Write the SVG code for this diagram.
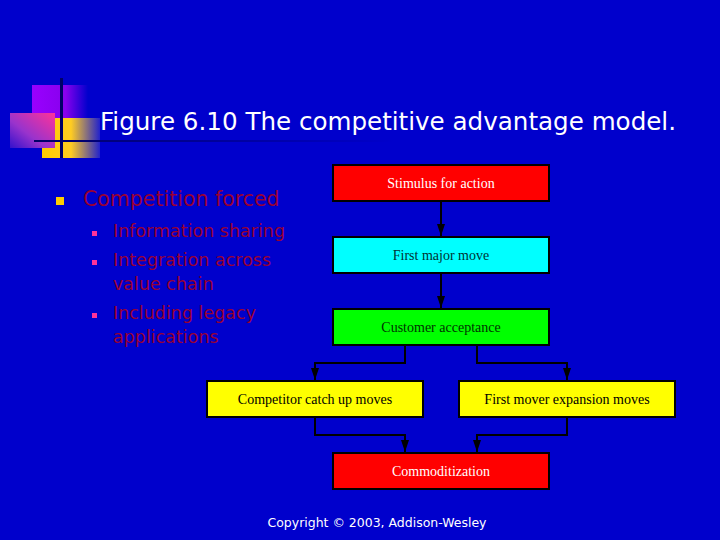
<svg xmlns="http://www.w3.org/2000/svg" width="720" height="540" viewBox="0 0 720 540">
<defs>
<linearGradient id="gPurple" x1="0" y1="0" x2="1" y2="0"><stop offset="0" stop-color="#9900FF"/><stop offset="0.6" stop-color="#8800EE"/><stop offset="1" stop-color="#0000CC"/></linearGradient>
<linearGradient id="gPink" x1="1" y1="0" x2="0" y2="1"><stop offset="0" stop-color="#FF3399"/><stop offset="0.6" stop-color="#9933CC"/><stop offset="1" stop-color="#3311CC"/></linearGradient>
<linearGradient id="gYellow" x1="0" y1="0" x2="1" y2="0"><stop offset="0" stop-color="#FFCC00"/><stop offset="0.5" stop-color="#FFCC22"/><stop offset="1" stop-color="#2222CC"/></linearGradient>
<linearGradient id="gLine" x1="0" y1="0" x2="1" y2="0"><stop offset="0" stop-color="#000066"/><stop offset="0.5" stop-color="#000099"/><stop offset="1" stop-color="#0000CC"/></linearGradient>
<marker id="ah" viewBox="0 0 12 8" refX="12" refY="4" markerWidth="12" markerHeight="8" markerUnits="userSpaceOnUse" orient="auto"><path d="M0,0 L12,4 L0,8 Z" fill="#000"/></marker>
<style>
.box{stroke:#000;stroke-width:2}
.bt{font-family:"Liberation Serif",serif;font-size:14px;text-anchor:middle}
.con{fill:none;stroke:#000;stroke-width:2;marker-end:url(#ah)}
.b1{font-family:"DejaVu Sans","Liberation Sans",sans-serif;font-size:20.5px;fill:#990033}
.b2{font-family:"DejaVu Sans","Liberation Sans",sans-serif;font-size:17.5px;fill:#990033}
</style>
</defs>
<rect width="720" height="540" fill="#0000CC"/>
<g id="decor">
<rect x="32" y="85" width="56" height="33" fill="url(#gPurple)"/>
<rect x="42" y="118" width="58" height="40" fill="url(#gYellow)"/>
<rect x="10" y="113" width="45" height="35" fill="url(#gPink)"/>
<rect x="60" y="78" width="3" height="80" fill="#000066"/>
<rect x="34" y="140" width="360" height="2" fill="url(#gLine)"/>
</g>
<text x="100" y="130" font-family="DejaVu Sans, sans-serif" font-size="25" fill="#FFFFFF" textLength="576" lengthAdjust="spacingAndGlyphs">Figure 6.10 The competitive advantage model.</text>
<g id="bullets">
<rect x="56" y="197" width="8" height="8" fill="#FFCC00"/>
<text class="b1" x="83" y="206">Competition forced</text>
<rect x="92" y="231" width="5" height="5" fill="#FF3399"/>
<text class="b2" x="113" y="237">Information sharing</text>
<rect x="92" y="260" width="5" height="5" fill="#FF3399"/>
<text class="b2" x="113" y="266">Integration across</text>
<text class="b2" x="113" y="290">value chain</text>
<rect x="92" y="313" width="5" height="5" fill="#FF3399"/>
<text class="b2" x="113" y="319">Including legacy</text>
<text class="b2" x="113" y="343">applications</text>
</g>
<g id="connectors">
<path class="con" d="M441,201 V236"/>
<path class="con" d="M441,273 V308"/>
<path class="con" d="M405,345 V363 H315 V380"/>
<path class="con" d="M477,345 V363 H567 V380"/>
<path class="con" d="M315,417 V435 H405 V452"/>
<path class="con" d="M567,417 V435 H477 V452"/>
</g>
<g id="stimulus"><rect class="box" x="333" y="165" width="216" height="36" fill="#FF0000"/><text class="bt" x="441" y="188" fill="#FFFFFF">Stimulus for action</text></g>
<g id="first-major-move"><rect class="box" x="333" y="237" width="216" height="36" fill="#00FFFF"/><text class="bt" x="441" y="260" fill="#003333">First major move</text></g>
<g id="customer-acceptance"><rect class="box" x="333" y="309" width="216" height="36" fill="#00FF00"/><text class="bt" x="441" y="332" fill="#003300">Customer acceptance</text></g>
<g id="competitor"><rect class="box" x="207" y="381" width="216" height="36" fill="#FFFF00"/><text class="bt" x="315" y="404" fill="#000000">Competitor catch up moves</text></g>
<g id="first-mover"><rect class="box" x="459" y="381" width="216" height="36" fill="#FFFF00"/><text class="bt" x="567" y="404" fill="#000000">First mover expansion moves</text></g>
<g id="commoditization"><rect class="box" x="333" y="453" width="216" height="36" fill="#FF0000"/><text class="bt" x="441" y="476" fill="#FFFFFF">Commoditization</text></g>
<text x="377" y="527" font-family="DejaVu Sans, sans-serif" font-size="13" fill="#FFFFFF" text-anchor="middle" textLength="219" lengthAdjust="spacingAndGlyphs">Copyright © 2003, Addison-Wesley</text>
</svg>
